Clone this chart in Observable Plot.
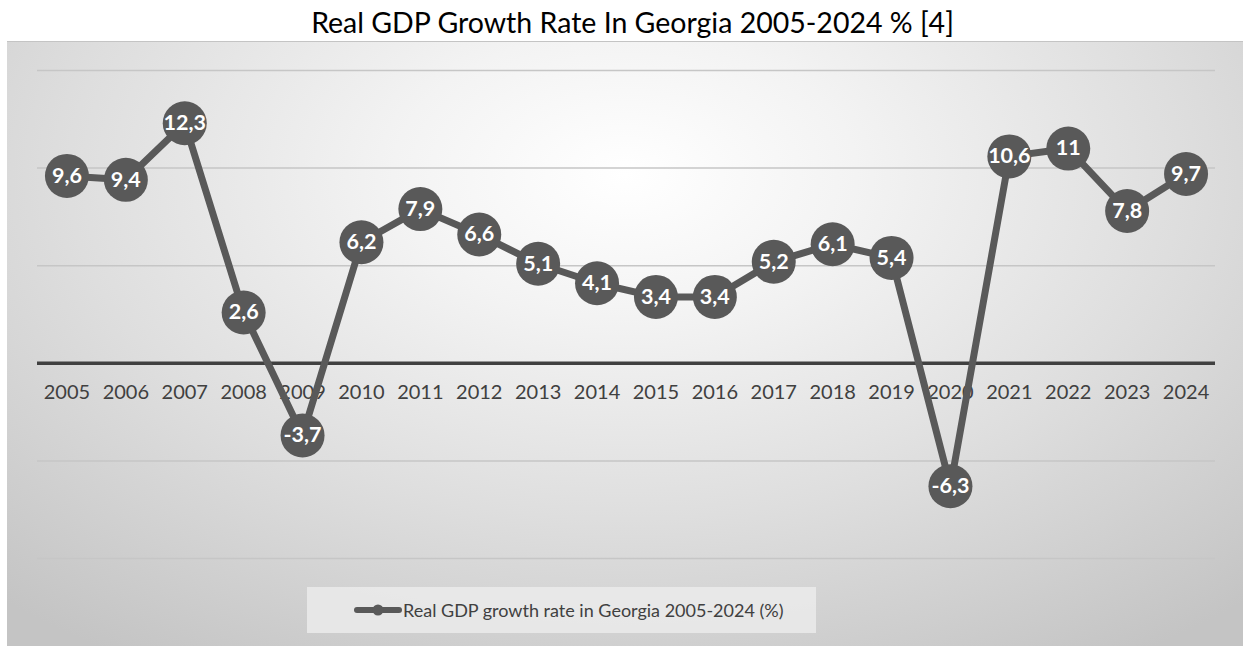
<!DOCTYPE html>
<html>
<head>
<meta charset="utf-8">
<script src="https://cdn.jsdelivr.net/npm/d3@7"></script>
<script src="https://cdn.jsdelivr.net/npm/@observablehq/plot@0.6"></script>
<style>
  html, body { margin: 0; padding: 0; background: #ffffff; width: 1245px; height: 646px; overflow: hidden; }
  #title { height: 41px; line-height: 44px; text-align: center; padding-left: 20px; font-family: Lato, "Open Sans", sans-serif; font-size: 28.5px; color: #000; }
  #area { position: relative; margin-left: 7px; width: 1236px; height: 605px; border-top: 1px solid #c4c4c4; box-sizing: border-box;
          background: radial-gradient(ellipse 75% 95% at 50% 22%, #ffffff 0%, #f3f3f3 25%, #dedede 60%, #c4c4c4 100%); }
  #area svg { position: absolute; left: 0; top: 0; background: transparent; }
  #legend { position: absolute; left: 300px; top: 545px; width: 509px; height: 46px; background: rgba(235,235,235,0.85);
            font-family: Lato, "Open Sans", sans-serif; font-size: 18px; color: #404040; display: flex; align-items: center; white-space: nowrap; }
  #legend svg { position: static; margin-left: 46px; margin-right: 0px; }
</style>
</head>
<body>
<div id="title">Real GDP Growth Rate In Georgia 2005-2024 % [4]</div>
<div id="area"></div>
<script>
const years = ["2005","2006","2007","2008","2009","2010","2011","2012","2013","2014","2015","2016","2017","2018","2019","2020","2021","2022","2023","2024"];
const growth = [9.6, 9.4, 12.3, 2.6, -3.7, 6.2, 7.9, 6.6, 5.1, 4.1, 3.4, 3.4, 5.2, 6.1, 5.4, -6.3, 10.6, 11, 7.8, 9.7];
const gridTicks = [-10, -5, 5, 10, 15];
const seriesName = "Real GDP growth rate in Georgia 2005-2024 (%)";

const data = years.map((y, i) => ({year: y, value: growth[i], label: String(growth[i]).replace(".", ",")}));
const lineColor = "#595959";

const chart = Plot.plot({
  width: 1236,
  height: 604,
  marginLeft: 30,
  marginRight: 28,
  marginTop: 28,
  marginBottom: 88,
  style: {background: "transparent", overflow: "visible"},
  x: {type: "band", domain: years, padding: 0, round: false, axis: null},
  y: {domain: [-10, 15], axis: null},
  marks: [
    Plot.ruleY(gridTicks, {stroke: "#c6c6c6", strokeWidth: 1.5}),
    Plot.ruleY([0], {stroke: "#404040", strokeWidth: 3.5}),
    Plot.text(years, {x: d => d, y: 0, dy: 29, text: d => d, fill: "#404040", fontSize: 20, fontFamily: "Lato, 'Open Sans', sans-serif"}),
    Plot.line(data, {x: "year", y: "value", stroke: lineColor, strokeWidth: 7, strokeLinejoin: "round"}),
    Plot.dot(data, {x: "year", y: "value", r: 22, fill: lineColor, stroke: "none"}),
    Plot.text(data, {x: "year", y: "value", text: "label", fill: "#ffffff", fontSize: 21.5, fontWeight: "bold", fontFamily: "Lato, 'Open Sans', sans-serif"})
  ]
});
document.getElementById("area").appendChild(chart);

const legend = document.createElement("div");
legend.id = "legend";
legend.innerHTML = `<svg width="50" height="20"><line x1="4" y1="10" x2="46" y2="10" stroke="${lineColor}" stroke-width="6" stroke-linecap="round"/><circle cx="25" cy="10" r="5.5" fill="${lineColor}"/></svg><span>${seriesName}</span>`;
document.getElementById("area").appendChild(legend);
</script>
</body>
</html>
